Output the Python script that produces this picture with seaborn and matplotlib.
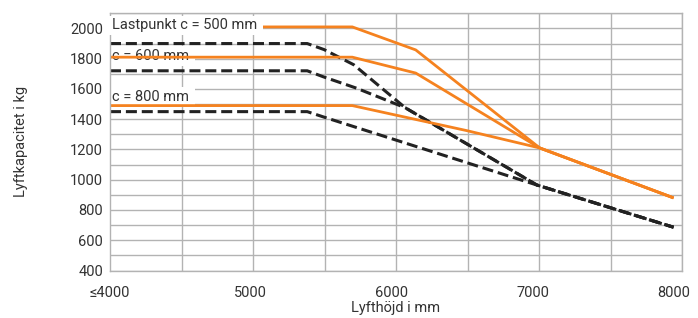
import matplotlib
matplotlib.use("Agg")
import matplotlib.pyplot as plt
import seaborn as sns
import pandas as pd

# ---- data ----
o500_x = [4000, 5720, 6170, 7050, 8000]
o500_y = [2010, 2010, 1858, 1210, 880]
o600_x = [4000, 5720, 6170, 7050, 8000]
o600_y = [1810, 1810, 1705, 1210, 880]
o800_x = [4000, 5720, 6530, 7050, 8000]
o800_y = [1490, 1490, 1325, 1210, 880]

d500_x = [4000, 5400, 5520, 5730, 6095, 7030, 8000]
d500_y = [1900, 1900, 1860, 1760, 1476, 965, 686]
d600_x = [4000, 5400, 5515, 5750, 6095, 7030, 8000]
d600_y = [1720, 1720, 1680, 1605, 1476, 965, 686]
d800_x = [4000, 5400, 5515, 7030, 8000]
d800_y = [1450, 1450, 1415, 965, 686]

x_ticks = [4000, 5000, 6000, 7000, 8000]
x_tick_labels = ["≤4000", "5000", "6000", "7000", "8000"]
y_ticks = [400, 600, 800, 1000, 1200, 1400, 1600, 1800, 2000]

labels = ["Lastpunkt c = 500 mm", "c = 600 mm", "c = 800 mm"]
label_y = [1995, 1792, 1521]

x_label = "Lyfthöjd i mm"
y_label = "Lyftkapacitet i kg"

# ---- style ----
sns.set_theme(style="whitegrid")
plt.rcParams["font.family"] = ["Roboto", "DejaVu Sans"]
GRID = "#b3b3b3"
TEXT = "#333333"
ORANGE = "#F5821F"
DARK = "#222222"

fig = plt.figure(figsize=(6.98, 3.18), dpi=100)
ax = fig.add_axes([110 / 698, 47.5 / 318, 572 / 698, 257.2 / 318])

series = [
    (o500_x, o500_y, ORANGE, "-", 2.0, 2.2),
    (o600_x, o600_y, ORANGE, "-", 2.0, 2.2),
    (o800_x, o800_y, ORANGE, "-", 2.0, 2.2),
    (d500_x, d500_y, DARK, (0, (3.6, 1.6)), 2.2, 2.1),
    (d600_x, d600_y, DARK, (0, (3.6, 1.6)), 2.2, 2.1),
    (d800_x, d800_y, DARK, (0, (3.6, 1.6)), 2.2, 2.1),
]
for xs, ys, col, ls, lw, z in series:
    df = pd.DataFrame({"h": xs, "c": ys})
    sns.lineplot(data=df, x="h", y="c", ax=ax, color=col, linewidth=lw,
                 estimator=None, sort=False, zorder=z)
    ax.lines[-1].set_linestyle(ls)
    ax.lines[-1].set_solid_capstyle("butt")

# label boxes
bb = dict(boxstyle="square,pad=0.18", fc="white", ec="none")
ax.text(4012, label_y[0], labels[0] + " ", fontsize=10.5, color=TEXT,
        ha="left", va="baseline", bbox=bb, zorder=3)
ax.text(4012, label_y[1], labels[1] + " ", fontsize=10.5, color=TEXT,
        ha="left", va="baseline", bbox=bb, zorder=1.5)
ax.text(4012, label_y[2], labels[2] + " ", fontsize=10.5, color=TEXT,
        ha="left", va="baseline", bbox=bb, zorder=1.5)

# axes limits & ticks
ax.set_xlim(4000, 8060)
ax.set_ylim(400, 2100)
ax.set_xticks(x_ticks)
ax.set_xticklabels(x_tick_labels)
ax.set_xticks([4000 + k * 4060 / 8 for k in range(9)], minor=True)
ax.set_yticks(y_ticks)
ax.set_yticks(list(range(500, 2101, 200)), minor=True)

ax.grid(False)
ax.grid(True, axis="x", which="minor", color=GRID, linewidth=1.0)
ax.grid(True, axis="y", which="both", color=GRID, linewidth=1.0)
ax.set_axisbelow(True)

ax.tick_params(axis="both", which="both", length=0, labelsize=10.5, labelcolor=TEXT)
ax.tick_params(axis="x", pad=11.5)
ax.tick_params(axis="y", pad=5)

for s in ax.spines.values():
    s.set_visible(True)
    s.set_color(GRID)
    s.set_linewidth(1.0)

ax.set_xlabel(x_label, fontsize=10.5, color=TEXT)
ax.set_ylabel(y_label, fontsize=10.5, color=TEXT)
ax.xaxis.set_label_coords(0.5, -0.118)
ax.yaxis.set_label_coords(-0.144, 0.5)

fig.savefig("out.png", dpi=100)
